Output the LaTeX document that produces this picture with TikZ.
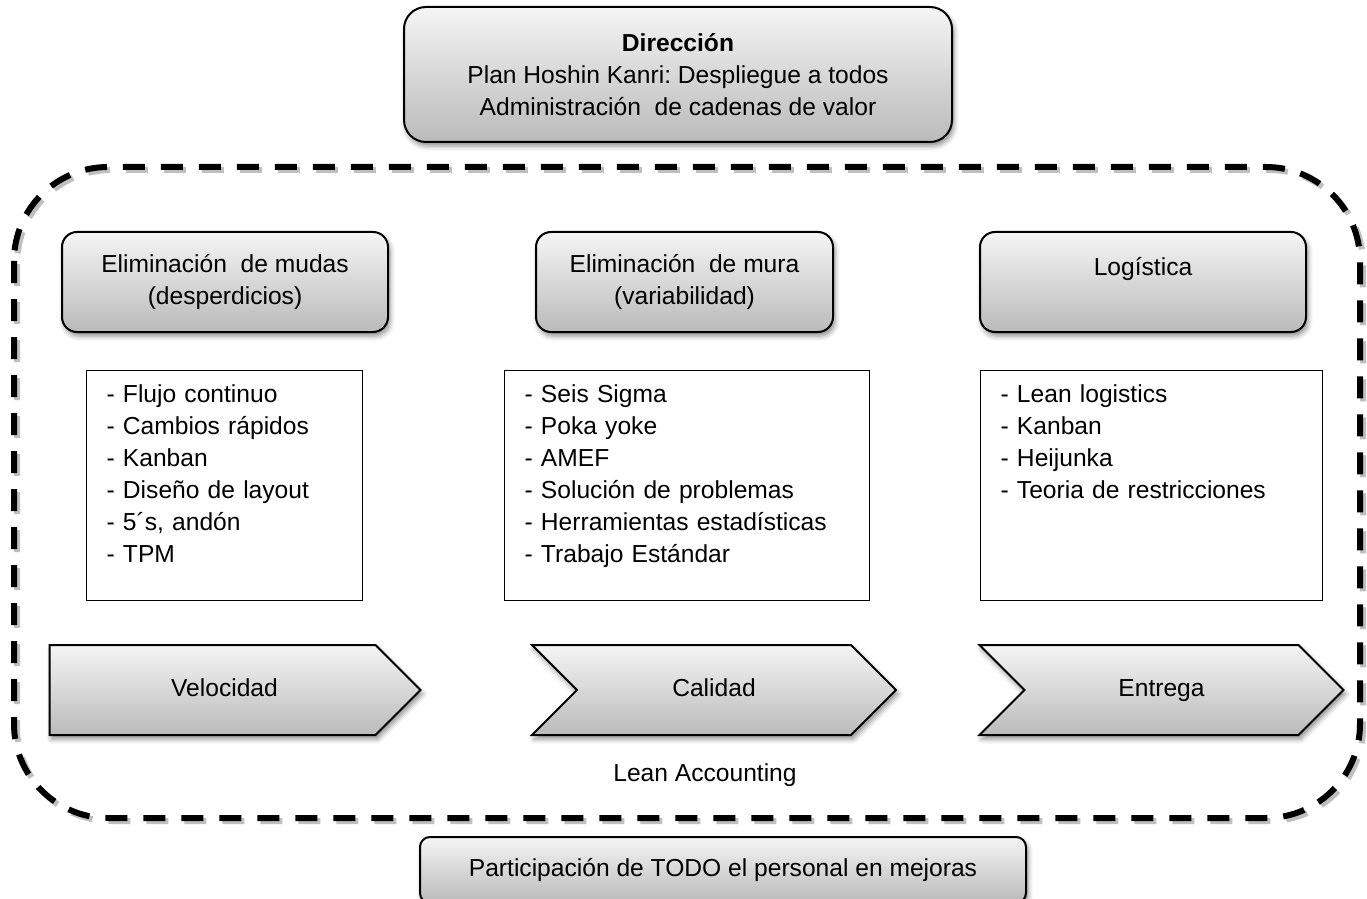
\documentclass[tikz,border=0pt]{standalone}
\usepackage{fontspec}
\setmainfont{Liberation Sans}
\usetikzlibrary{positioning,shapes.symbols,shadows.blur}
\frenchspacing

\begin{document}
\begin{tikzpicture}[x=0.5pt,y=-0.5pt,
font=\fontsize{12.3}{16}\selectfont,
shadebox/.style={top color=black!4,bottom color=black!27},
softshadow/.style={blur shadow={shadow xshift=1pt,shadow yshift=-2pt,shadow blur radius=2.5pt,shadow opacity=45}},
head/.style={draw,rectangle,rounded corners=7.5pt,line width=1pt,shadebox,softshadow,
  minimum width=163pt,minimum height=50pt,align=center},
listbox/.style={draw,rectangle,line width=0.6pt,anchor=north west,
  inner xsep=10pt,inner ysep=7pt,align=left,text height=9pt,text depth=92pt},
flow/.style={draw,signal,signal to=east,line width=1pt,shadebox,softshadow,
  minimum width=182pt,minimum height=45pt,text height=9pt,text depth=2.5pt},
framedash/.style={line width=3pt,dash pattern=on 11pt off 8pt,rounded corners=47pt}]
\useasboundingbox (0,0) rectangle (1367,899);

\draw[framedash,black!25,xshift=1.5pt,yshift=-1.5pt] (14,167) rectangle (1360,818);
\draw[framedash] (14,167) rectangle (1360,818);

\node (dir) [head,rounded corners=11pt,minimum width=274pt,minimum height=67.5pt] at (678,74.5)
  {\textbf{Dirección}\\Plan Hoshin Kanri: Despliegue a todos\\Administración~ de cadenas de valor};

\node (muda) [head] at (225,282) {Eliminación~ de mudas\\(desperdicios)};
\node (mura) [head,minimum width=148.5pt] at (684.5,282) {Eliminación~ de mura\\(variabilidad)};
\node (logis) [head] at (1143,282) {Logística\\\mbox{}};

\node (mudalist) [listbox,text width=118pt] at (86,370)
  {- Flujo continuo\\- Cambios rápidos\\- Kanban\\- Diseño de layout\\- 5´s, andón\\- TPM};
\node (muralist) [listbox,text width=162.5pt] at (504,370)
  {- Seis Sigma\\- Poka yoke\\- AMEF\\- Solución de problemas\\- Herramientas estadísticas\\- Trabajo Estándar};
\node (logislist) [listbox,text width=151pt] at (980,370)
  {- Lean logistics\\- Kanban\\- Heijunka\\- Teoria de restricciones};

\node (speed) [flow,minimum width=185.5pt] at (212.5,690) {\hspace*{12pt}Velocidad};
\node (quality) [flow,signal from=west] at (714,690) {Calidad};
\node (delivery) [flow,signal from=west] at (1161.5,690) {Entrega};

\node (acct) at (705,775) {Lean Accounting};

\node (people) [head,rounded corners=5pt,minimum width=303pt,minimum height=33pt] at (723,870)
  {Participación de TODO el personal en mejoras};
\end{tikzpicture}
\end{document}
